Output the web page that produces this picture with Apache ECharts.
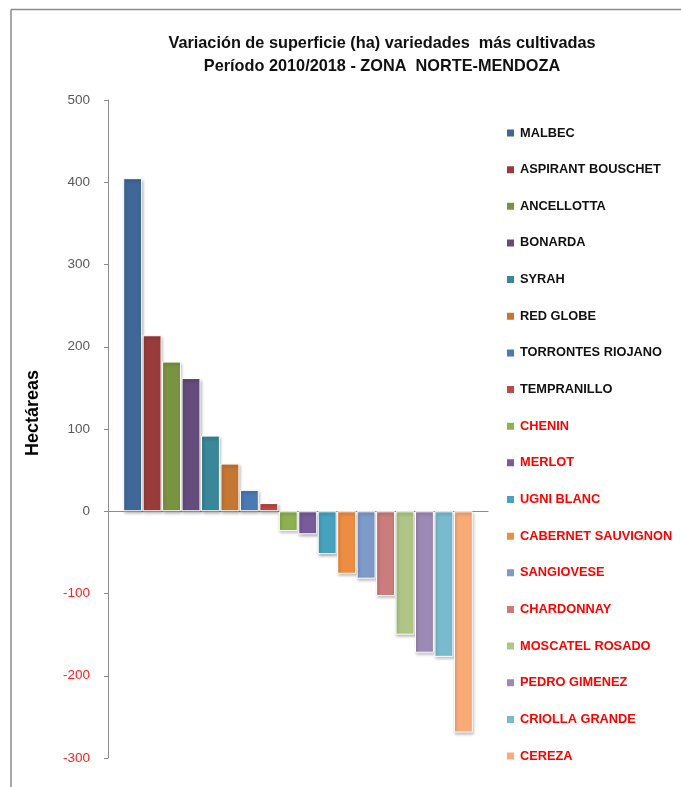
<!DOCTYPE html>
<html>
<head>
<meta charset="utf-8">
<script src="https://cdn.jsdelivr.net/npm/echarts@6/dist/echarts.min.js"></script>
<style>html,body{margin:0;padding:0;background:#fff;}#c{width:681px;height:787px;}</style>
</head>
<body>
<div id="c"></div>
<script>
const varieties = ["MALBEC","ASPIRANT BOUSCHET","ANCELLOTTA","BONARDA","SYRAH","RED GLOBE","TORRONTES RIOJANO","TEMPRANILLO","CHENIN","MERLOT","UGNI BLANC","CABERNET SAUVIGNON","SANGIOVESE","CHARDONNAY","MOSCATEL ROSADO","PEDRO GIMENEZ","CRIOLLA GRANDE","CEREZA"];
const values = [405, 214, 182, 162, 92, 58, 26, 10, -24, -28, -52, -76, -82, -103, -150, -172, -177, -269];
const colors = ["#3F6797","#983C3B","#7A9341","#644C7D","#398798","#C47733","#4A79B5","#BA4947","#8FB050","#775B9A","#46A2BD","#EC8D41","#7D9AC8","#CB7C7C","#AEC585","#9D89B5","#79BACF","#F9AB77"];
const yTicks = {min: -300, max: 500, interval: 100};
const titleLines = ["Variación de superficie (ha) variedades  más cultivadas", "Período 2010/2018 - ZONA  NORTE-MENDOZA"];
const yName = "Hectáreas";

const chart = echarts.init(document.getElementById('c'), null, {renderer: 'canvas'});
const series = varieties.map((name, i) => ({
  name: name,
  type: 'bar',
  data: [values[i]],
  barGap: '3%',
  barCategoryGap: '8%',
  itemStyle: {
    color: colors[i],
    borderColor: '#ffffff',
    borderWidth: 1,
    shadowColor: 'rgba(0,0,0,0.3)',
    shadowBlur: 3,
    shadowOffsetX: 1,
    shadowOffsetY: 2
  }
}));

chart.setOption({
  animation: false,
  backgroundColor: '#fff',
  title: {
    text: titleLines.join('\n'),
    left: 377,
    top: 27,
    textAlign: 'center',
    textStyle: {fontFamily: 'Liberation Sans', fontWeight: 'bold', fontSize: 16.3, color: '#111', lineHeight: 23}
  },
  legend: {
    orient: 'vertical',
    left: 500,
    top: 121,
    itemWidth: 9,
    itemHeight: 9,
    itemGap: 22.65,
    icon: 'rect',
    data: varieties.map((n, i) => ({name: n, textStyle: {color: i < 8 ? '#111' : '#FF0000'}})),
    textStyle: {fontFamily: 'Liberation Sans', fontWeight: 'bold', fontSize: 12.8, lineHeight: 14}
  },
  grid: {left: 108, right: 193, top: 100, bottom: 29, containLabel: false},
  xAxis: {
    type: 'category',
    data: [''],
    axisLine: {lineStyle: {color: '#8C8C8C', width: 1}},
    axisTick: {show: false},
    axisLabel: {show: false},
    splitLine: {show: false}
  },
  yAxis: {
    type: 'value',
    min: yTicks.min,
    max: yTicks.max,
    interval: yTicks.interval,
    axisLine: {show: true, lineStyle: {color: '#8C8C8C', width: 1}},
    axisTick: {show: true, inside: false, length: 4, lineStyle: {color: '#8C8C8C'}},
    splitLine: {show: false},
    axisLabel: {
      margin: 18,
      fontFamily: 'Liberation Sans',
      fontSize: 13.5,
      color: function (v) { return Number(v) < 0 ? '#FF2020' : '#595959'; }
    }
  },
  graphic: [
    {type: 'line', shape: {x1: 11, y1: 9.5, x2: 681, y2: 9.5}, style: {stroke: '#8A8A8A', lineWidth: 1.5}},
    {type: 'line', shape: {x1: 11, y1: 9.5, x2: 11, y2: 787}, style: {stroke: '#8A8A8A', lineWidth: 1.5}},
    {type: 'text', x: 33, y: 413, rotation: Math.PI / 2,
      style: {text: yName, fontFamily: 'Liberation Sans', fontWeight: 'bold', fontSize: 18, fill: '#000', align: 'center', verticalAlign: 'middle'}}
  ],
  series: series
});
</script>
</body>
</html>
